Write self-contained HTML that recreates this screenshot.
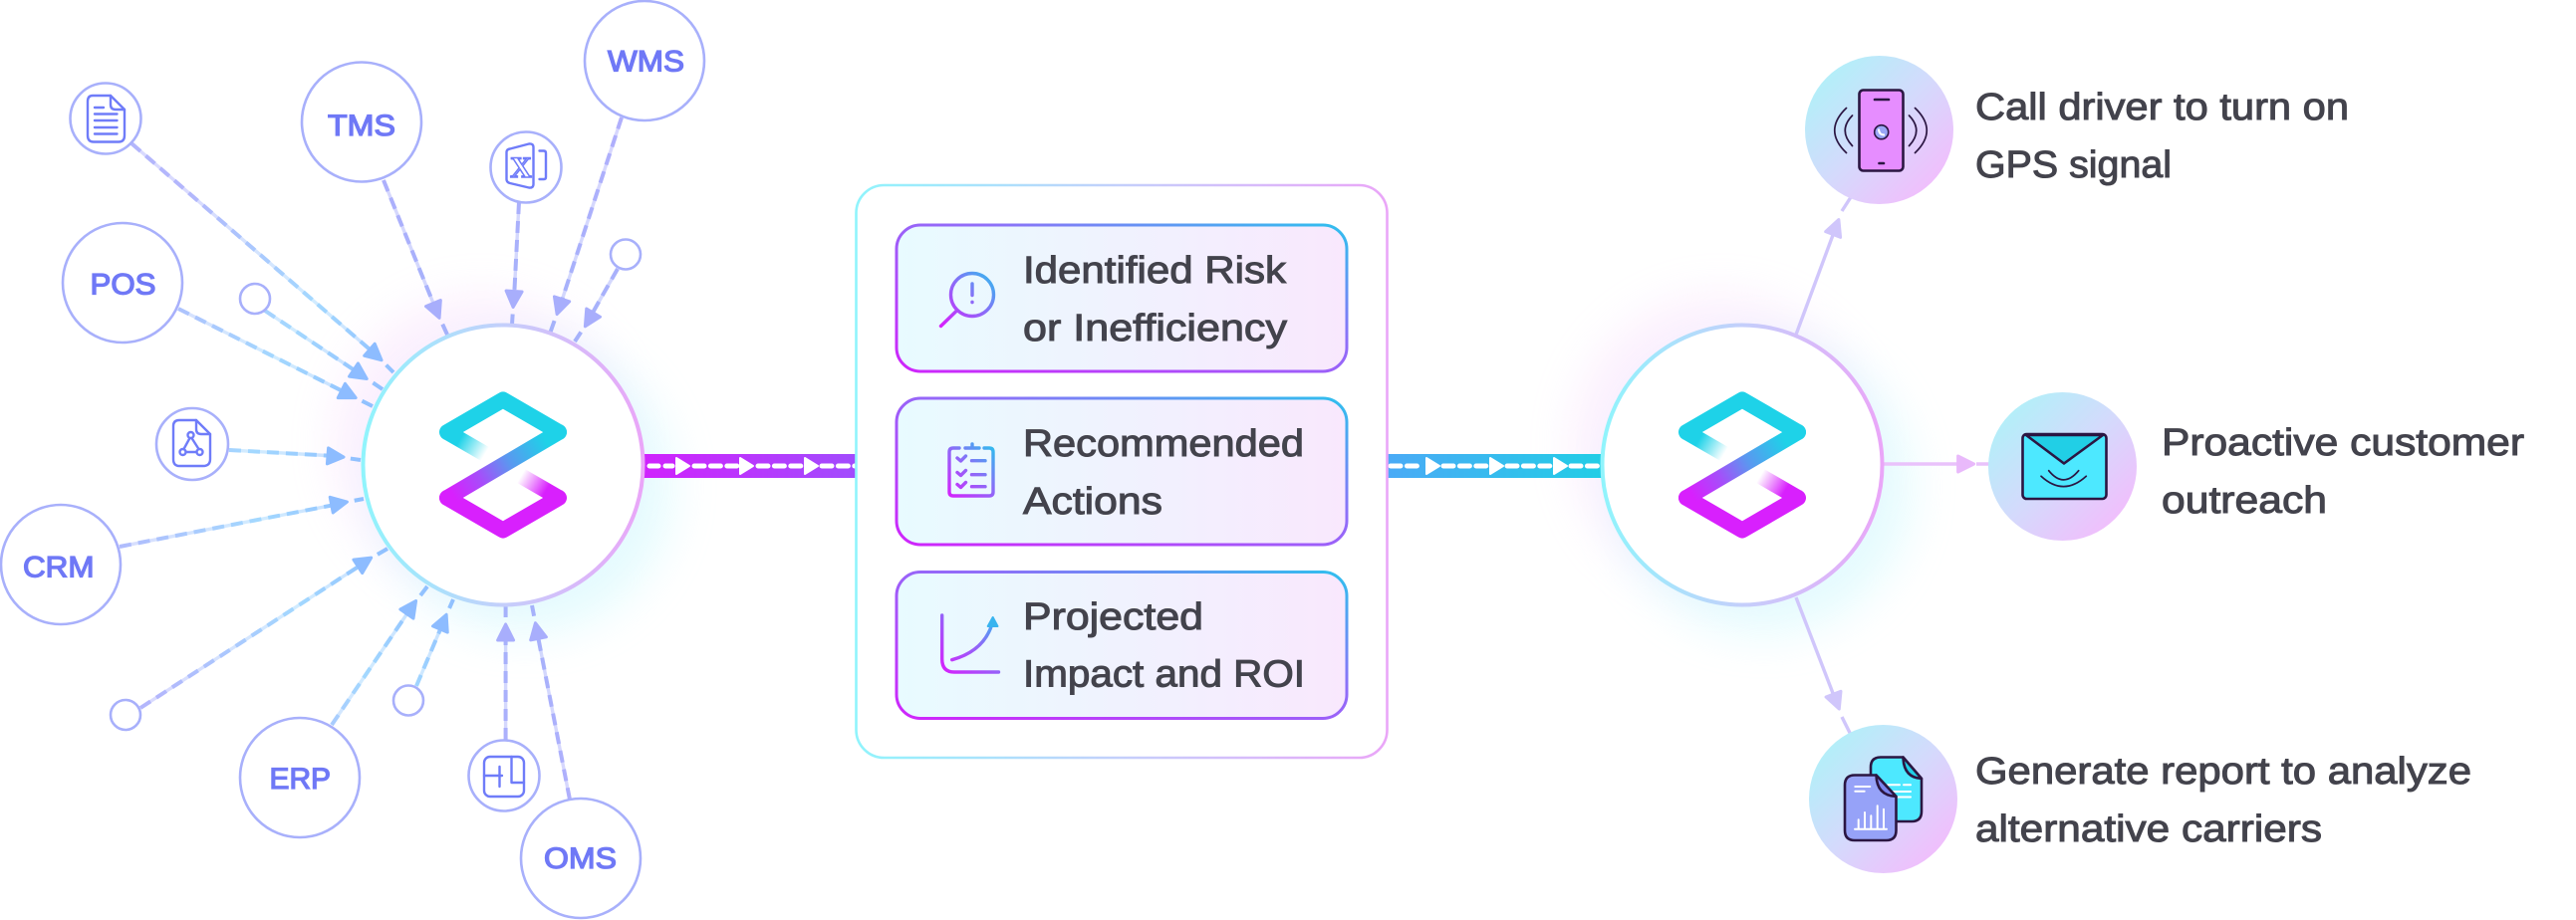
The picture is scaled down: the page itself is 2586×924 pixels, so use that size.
<!DOCTYPE html>
<html><head><meta charset="utf-8"><style>
html,body{margin:0;padding:0;background:#fff;width:2586px;height:924px;overflow:hidden}
svg{display:block}
text{font-family:"Liberation Sans",sans-serif}
.t{fill:#43434c;stroke:#43434c;stroke-width:1;font-size:38px}
.s{fill:#6f78f6;stroke:#6f78f6;stroke-width:1.3;font-size:30px}
.sat{fill:#fff;stroke:#a8b0fb;stroke-width:2.6}
.ic{fill:none;stroke:#6f7cf9;stroke-width:2.4;stroke-linecap:round;stroke-linejoin:round}
.L{stroke:url(#lg);fill:none}.R{stroke:url(#rg);fill:none}
.d{stroke-width:4;stroke-dasharray:12 7}
.u{stroke-width:3.4;opacity:.5}
.e{stroke-width:4;stroke-dasharray:0 15 60}
.dk{stroke:#2b1642;stroke-width:2.6;stroke-linejoin:round;stroke-linecap:round}
.w{stroke:#fff;stroke-width:2;stroke-linecap:round;fill:none}
.gi{fill:none;stroke-width:3.4;stroke-linecap:round;stroke-linejoin:round}
</style></head><body>
<svg xmlns="http://www.w3.org/2000/svg" width="2586" height="924" viewBox="0 0 2586 924">
<defs>
<radialGradient id="lg" gradientUnits="userSpaceOnUse" cx="505" cy="467" r="420"><stop offset=".3" stop-color="#8dbcff"/><stop offset=".6" stop-color="#a3d8ff"/><stop offset="1" stop-color="#b3b6fc"/></radialGradient>
<radialGradient id="rg" gradientUnits="userSpaceOnUse" cx="505" cy="467" r="420"><stop offset=".3" stop-color="#a4b2fb"/><stop offset="1" stop-color="#b3aefc"/></radialGradient>
<linearGradient id="ring" x1="0" y1="0" x2="1" y2="0"><stop offset="0" stop-color="#90f4fc"/><stop offset=".5" stop-color="#c4cffb"/><stop offset="1" stop-color="#eaa6f8"/></linearGradient>
<linearGradient id="card" x1="0" y1="1" x2="1" y2="0"><stop offset="0" stop-color="#d024fb"/><stop offset=".6" stop-color="#8f6ff8"/><stop offset="1" stop-color="#2fc0ee"/></linearGradient>
<linearGradient id="cf" x1="0" y1="0" x2="1" y2="0"><stop offset="0" stop-color="#e8fbff"/><stop offset=".5" stop-color="#f0f2fe"/><stop offset="1" stop-color="#f9e8fd"/></linearGradient>
<linearGradient id="ig1" gradientUnits="userSpaceOnUse" x1="944" y1="328" x2="998" y2="274"><stop offset="0" stop-color="#d81ffc"/><stop offset=".55" stop-color="#8b6cf8"/><stop offset="1" stop-color="#2fbdee"/></linearGradient>
<linearGradient id="ig2" gradientUnits="userSpaceOnUse" x1="950" y1="498" x2="998" y2="449"><stop offset="0" stop-color="#d81ffc"/><stop offset=".55" stop-color="#8b6cf8"/><stop offset="1" stop-color="#2fbdee"/></linearGradient>
<linearGradient id="ig3" gradientUnits="userSpaceOnUse" x1="946" y1="676" x2="1002" y2="620"><stop offset="0" stop-color="#d81ffc"/><stop offset=".6" stop-color="#8b6cf8"/><stop offset="1" stop-color="#2fbdee"/></linearGradient>
<linearGradient id="bl" x1="0" y1="0" x2="1" y2="0"><stop offset="0" stop-color="#d022fd"/><stop offset="1" stop-color="#a14cfd"/></linearGradient>
<linearGradient id="br" x1="0" y1="0" x2="1" y2="0"><stop offset="0" stop-color="#4aaaf6"/><stop offset="1" stop-color="#22cde6"/></linearGradient>
<linearGradient id="ci" x1="0" y1="0" x2="1" y2="1"><stop offset=".08" stop-color="#aef2f8"/><stop offset=".5" stop-color="#d4dafc"/><stop offset=".95" stop-color="#f7b8fc"/></linearGradient>
<linearGradient id="f1" gradientUnits="userSpaceOnUse" x1="462" y1="441" x2="487" y2="456"><stop offset="0" stop-color="#1ed2e8"/><stop offset="1" stop-color="#1ed2e8" stop-opacity="0"/></linearGradient>
<linearGradient id="f2" gradientUnits="userSpaceOnUse" x1="548" y1="493" x2="523" y2="478"><stop offset="0" stop-color="#d820fd"/><stop offset="1" stop-color="#d820fd" stop-opacity="0"/></linearGradient>
<linearGradient id="f3" gradientUnits="userSpaceOnUse" x1="561" y1="434" x2="449" y2="500"><stop offset=".12" stop-color="#1ed2e8"/><stop offset=".45" stop-color="#5b97f0"/><stop offset=".7" stop-color="#a64efa"/><stop offset=".95" stop-color="#d820fd"/></linearGradient>
<filter id="b" x="-50%" y="-50%" width="200%" height="200%"><feGaussianBlur stdDeviation="22"/></filter>
<polygon id="a" points="-8,-8 8,0 -8,8" stroke-width="3" stroke-linejoin="round"/>
<g id="logo" fill="none" stroke-width="16">
<path d="M487,456 L449,434" stroke="url(#f1)"/>
<path d="M449,434 L505,401.5 L561,434" stroke="#1ed2e8" stroke-linejoin="round" stroke-linecap="round"/>
<path d="M523,478 L561,500" stroke="url(#f2)"/>
<path d="M449,500 L505,532.5 L561,500" stroke="#d820fd" stroke-linejoin="round" stroke-linecap="round"/>
<path d="M561,434 L449,500" stroke="url(#f3)" stroke-linecap="round"/>
</g>
<g id="hub">
<circle cx="483" cy="445" r="148" fill="#f3c4fb" opacity=".26" filter="url(#b)"/>
<circle cx="527" cy="489" r="148" fill="#b4f5fd" opacity=".34" filter="url(#b)"/>
</g>
</defs>
<rect width="2586" height="924" fill="#fff"/>
<use href="#hub"/><use href="#hub" x="1244"/>

<!-- connectors -->
<g fill="#8dbcff" stroke="#8dbcff">
<g class="L"><path class="u" d="M132,144L377,356"/><path class="d" d="M132,144L377,356"/><path class="e" d="M377,356L395,374"/></g><use href="#a" transform="translate(377,356.5) rotate(41)"/>
<g class="L"><path class="u" d="M266,312L362,376"/><path class="d" d="M266,312L362,376"/><path class="e" d="M362,376L384,391"/></g><use href="#a" transform="translate(361.6,376) rotate(34)"/>
<g class="L"><path class="u" d="M179,310L350,396"/><path class="d" d="M179,310L350,396"/><path class="e" d="M350,396L374,408"/></g><use href="#a" transform="translate(350,396) rotate(26.5)"/>
<g class="L"><path class="u" d="M230,452L337,458"/><path class="d" d="M230,452L337,458"/><path class="e" d="M337,458.5L362,462"/></g><use href="#a" transform="translate(337,458.5) rotate(4.3)"/>
<g class="L"><path class="u" d="M120,549L341,506"/><path class="d" d="M120,549L341,506"/><path class="e" d="M341,505.6L365,501"/></g><use href="#a" transform="translate(340.6,505.6) rotate(-11)"/>
<g class="L"><path class="u" d="M141,711L366,565"/><path class="d" d="M141,711L366,565"/><path class="e" d="M366,564.5L389,551"/></g><use href="#a" transform="translate(366,564.5) rotate(-33)"/>
<g class="L"><path class="u" d="M333,728L413,610"/><path class="d" d="M333,728L413,610"/><path class="e" d="M413,610L429,589"/></g><use href="#a" transform="translate(413,610) rotate(-55)"/>
<g class="L"><path class="u" d="M418,689L445,625"/><path class="d" d="M418,689L445,625"/><path class="e" d="M445,624.6L455,602"/></g><use href="#a" transform="translate(445,624.6) rotate(-67)"/>
</g>
<g fill="#a8aefc" stroke="#a8aefc">
<g class="R"><path class="u" d="M507.6,743L507.6,635"/><path class="d" d="M507.6,743L507.6,635"/><path class="e" d="M507.6,635L507.6,608"/></g><use href="#a" transform="translate(507.6,635) rotate(-90)"/>
<g class="R"><path class="u" d="M572,803L539,634"/><path class="d" d="M572,803L539,634"/><path class="e" d="M539,633.5L534,608"/></g><use href="#a" transform="translate(539,633.5) rotate(-101)"/>
<g class="R"><path class="u" d="M620,270L591,321"/><path class="d" d="M620,270L591,321"/><path class="e" d="M591.5,321L577,343"/></g><use href="#a" transform="translate(591.5,321) rotate(121)"/>
<g class="R"><path class="u" d="M624,118L562,308"/><path class="d" d="M624,118L562,308"/><path class="e" d="M561.6,308L552,335"/></g><use href="#a" transform="translate(561.6,308) rotate(108)"/>
<g class="R"><path class="u" d="M521,203L516,300"/><path class="d" d="M521,203L516,300"/><path class="e" d="M515.6,300.5L514,326"/></g><use href="#a" transform="translate(515.6,300.5) rotate(93.5)"/>
<g class="R"><path class="u" d="M385,181L438,312"/><path class="d" d="M385,181L438,312"/><path class="e" d="M438,312L449,336"/></g><use href="#a" transform="translate(438,312) rotate(67.5)"/>
</g>

<!-- right connectors -->
<g fill="none" stroke="#d0c6fb" stroke-width="3.4">
<path d="M1803,336L1843,228"/><path d="M1849,212L1858,198"/>
<path d="M1803,600L1843,704"/><path d="M1849,720L1858,738"/>
</g>
<path d="M1890,466H1974M1984,466H1998" stroke="#e9c2fb" stroke-width="3.4" fill="none"/>
<use href="#a" fill="#d0c6fb" stroke="#d0c6fb" transform="translate(1843,228) rotate(-69)"/>
<use href="#a" fill="#d0c6fb" stroke="#d0c6fb" transform="translate(1843.4,704.6) rotate(69)"/>
<use href="#a" fill="#e9b9fb" stroke="#e9b9fb" transform="translate(1973.6,466)"/>

<!-- bars -->
<rect x="645" y="456" width="215" height="24" fill="url(#bl)"/>
<rect x="1392" y="456" width="216" height="24" fill="url(#br)"/>
<g fill="none" stroke="#fff" stroke-width="5" stroke-linecap="round">
<path d="M652,468H675" stroke-dasharray="9 7"/>
<path d="M697,468H740" stroke-dasharray="10 6.4"/>
<path d="M761,468H804" stroke-dasharray="10 6.4"/>
<path d="M825,468H858" stroke-dasharray="10 6.4"/>
<path d="M1396,468H1428" stroke-dasharray="10 6.4"/>
<path d="M1449,468H1492" stroke-dasharray="10 6.4"/>
<path d="M1513,468H1556" stroke-dasharray="10 6.4"/>
<path d="M1577,468H1606" stroke-dasharray="10 6.4"/>
</g>
<g fill="#fff" stroke="#fff" stroke-width="2" stroke-linejoin="round">
<polygon points="679,460 692,468 679,476"/><polygon points="743,460 756,468 743,476"/><polygon points="808,460 821,468 808,476"/>
<polygon points="1432,460 1445,468 1432,476"/><polygon points="1496,460 1509,468 1496,476"/><polygon points="1560,460 1573,468 1560,476"/>
</g>

<!-- hubs -->
<circle cx="505" cy="467" r="140.5" fill="#fff" stroke="url(#ring)" stroke-width="4"/>
<circle cx="1749" cy="467" r="140.5" fill="#fff" stroke="url(#ring)" stroke-width="4"/>
<use href="#logo"/><use href="#logo" x="1244"/>

<!-- satellites -->
<circle class="sat" cx="106" cy="119" r="35.5"/>
<circle class="sat" cx="363" cy="122.5" r="60"/>
<circle class="sat" cx="647" cy="61" r="60"/>
<circle class="sat" cx="528" cy="168" r="35.5"/>
<circle class="sat" cx="628" cy="255.5" r="15"/>
<circle class="sat" cx="123" cy="284" r="60"/>
<circle class="sat" cx="256" cy="300" r="15"/>
<circle class="sat" cx="193" cy="446" r="36"/>
<circle class="sat" cx="61" cy="567" r="60"/>
<circle class="sat" cx="126" cy="718" r="15"/>
<circle class="sat" cx="301" cy="781" r="60"/>
<circle class="sat" cx="410" cy="703.5" r="15"/>
<circle class="sat" cx="506" cy="779" r="35.5"/>
<circle class="sat" cx="583" cy="862" r="60"/>
<text class="s" x="329" y="136" textLength="68" lengthAdjust="spacingAndGlyphs">TMS</text>
<text class="s" x="610" y="71.5" textLength="77" lengthAdjust="spacingAndGlyphs">WMS</text>
<text class="s" x="90.5" y="295.5" textLength="66" lengthAdjust="spacingAndGlyphs">POS</text>
<text class="s" x="23" y="579.5" textLength="71.5" lengthAdjust="spacingAndGlyphs">CRM</text>
<text class="s" x="270.5" y="792" textLength="61.5" lengthAdjust="spacingAndGlyphs">ERP</text>
<text class="s" x="546" y="872" textLength="73" lengthAdjust="spacingAndGlyphs">OMS</text>

<!-- small icons -->
<g class="ic">
<path d="M93,96H111L125,110V136Q125,142.5 119,142.5H94Q88,142.5 88,136V102Q88,96 93,96Z"/>
<path d="M111,96V105Q111,110 116,110H125"/>
<path d="M95,108H104M95,114.5H117.5M95,121H117.5M95,128H117.5M95,134.5H117.5"/>
<path d="M508.5,153Q508.5,150 512,149.5L531,144.5Q535.5,144 535.5,148V185Q535.5,189 531,188.5L512,184Q508.5,183 508.5,180Z"/>
<path d="M541.5,151.5H546Q548,151.5 548,154V178Q548,180 546,180H541.5"/>
<path d="M180,422H197L211,436V461Q211,468 204,468H180Q174,468 174,461V428Q174,422 180,422Z"/>
<path d="M197,422V431Q197,436 202,436H211"/>
<circle cx="191.5" cy="437" r="3"/><circle cx="183.5" cy="454" r="3"/><circle cx="200.5" cy="454" r="3"/>
<path d="M190.5,440L184.5,451M192.5,440L199.5,451M186.5,454H197.5"/>
<rect x="486" y="760" width="40" height="40" rx="6"/>
<path d="M486,779H504M501.5,770V790M513.5,760V786H526"/>
</g>
<text x="523" y="178" text-anchor="middle" font-size="30" style="font-family:'Liberation Serif',serif;font-weight:700" fill="#fff" stroke="#6f7cf9" stroke-width="1.5">X</text>

<!-- panel -->
<rect x="859.5" y="186" width="533" height="575" rx="28" fill="#fff" stroke="url(#ring)" stroke-width="2.6"/>
<g fill="url(#cf)" stroke="url(#card)" stroke-width="3">
<rect x="900" y="226" width="452" height="147" rx="24"/>
<rect x="900" y="400" width="452" height="147" rx="24"/>
<rect x="900" y="574.5" width="452" height="147" rx="24"/>
</g>
<circle cx="976" cy="296" r="21.5" class="gi" stroke="url(#ig1)"/>
<path class="gi" stroke="url(#ig1)" d="M961,311.5L944.5,327.5M976,285V296.5M976,303.3V303.6"/>
<path class="gi" stroke="url(#ig2)" d="M963,450H957Q953,450 953,454V494Q953,498 957,498H993Q997,498 997,494V454Q997,450 993,450H988M969,450H983M976,446V450"/>
<path class="gi" stroke="url(#ig2)" d="M961,460L964.5,463L969.5,458M961,474.5L964.5,477.5L969.5,472.5M961,486.5L964.5,489.5L969.5,484.5M975.5,462.7H989M975.5,476.7H989M975.5,488.7H989"/>
<path class="gi" stroke="url(#ig3)" d="M945.7,618V662Q945.7,675 958,675H1002.5M955.7,662.7Q987,654 995.5,628"/>
<polygon points="996.7,620 1001.5,629 991.7,629" fill="#39b4ef" stroke="#39b4ef" stroke-width="2" stroke-linejoin="round"/>

<text class="t" x="1027" y="284" textLength="264" lengthAdjust="spacingAndGlyphs">Identified Risk</text>
<text class="t" x="1027" y="342" textLength="265" lengthAdjust="spacingAndGlyphs">or Inefficiency</text>
<text class="t" x="1027" y="458" textLength="282" lengthAdjust="spacingAndGlyphs">Recommended</text>
<text class="t" x="1027" y="516" textLength="140" lengthAdjust="spacingAndGlyphs">Actions</text>
<text class="t" x="1027" y="632" textLength="181" lengthAdjust="spacingAndGlyphs">Projected</text>
<text class="t" x="1027" y="689.5" textLength="283" lengthAdjust="spacingAndGlyphs">Impact and ROI</text>

<!-- outcome circles -->
<circle cx="1886.5" cy="130.5" r="74.5" fill="url(#ci)"/>
<circle cx="2070.5" cy="468.5" r="74.5" fill="url(#ci)"/>
<circle cx="1890.5" cy="802.5" r="74.5" fill="url(#ci)"/>

<!-- phone -->
<rect x="1866.5" y="90.5" width="44" height="81" rx="4" fill="#e68dff" class="dk"/>
<path class="dk" fill="none" d="M1882,100H1896M1886.5,164H1891"/>
<circle cx="1888.7" cy="132.7" r="7" fill="#9aa6f6" stroke="#2b1642" stroke-width="1.6"/>
<path d="M1886,129.5Q1886,135.5 1892,135.5" fill="none" stroke="#fff" stroke-width="2"/>
<g fill="none" stroke="#2b1642" stroke-width="1.7" stroke-linecap="round">
<path d="M1853.5,108.5Q1830,131 1853.5,153.5M1859.5,116Q1845,131 1859.5,146.5M1916.5,116Q1931,131 1916.5,146.5M1922.5,108.5Q1946,131 1922.5,153.5"/>
</g>

<!-- envelope -->
<rect x="2030.5" y="436" width="84" height="65" rx="4" fill="#4de8ff" class="dk"/>
<path d="M2034,437L2072,465.5L2111,437Z" fill="#21cfe6" class="dk"/>
<path d="M2056.7,472.7Q2071.5,491 2086.7,472.7M2049,478.3Q2071.5,499 2094.3,478.3" fill="none" stroke="#2b1642" stroke-width="1.7" stroke-linecap="round"/>

<!-- docs -->
<path d="M1888,760.5H1910.5L1929,782V815Q1929,825 1919,825H1888Q1878,825 1878,815V770.5Q1878,760.5 1888,760.5Z" fill="#4de8ff" class="dk"/>
<path d="M1910.5,760.5Q1911,781 1929,782Z" fill="#21cfe6" class="dk"/>
<path class="w" d="M1895,788.3H1907M1911,788.3H1918M1895,795H1918M1903,800.5H1918"/>
<path d="M1862,778.5H1883.5L1903.5,800V834Q1903.5,844 1893.5,844H1862Q1852,844 1852,834V788.5Q1852,778.5 1862,778.5Z" fill="#96a2f8" class="dk"/>
<path d="M1883.5,778.5Q1884,799 1903.5,800Z" fill="#7b84ef" class="dk"/>
<path class="w" stroke-width="1.6" d="M1862.3,790H1877.3M1862.3,794.7H1871.7M1862,832.7H1894M1865.7,832V823.3M1872,832V816M1878.3,832V819.3M1884.7,832V809.3M1891,832V812.7"/>

<text class="t" x="1983" y="120" textLength="375" lengthAdjust="spacingAndGlyphs">Call driver to turn on</text>
<text class="t" x="1983" y="178" textLength="197" lengthAdjust="spacingAndGlyphs">GPS signal</text>
<text class="t" x="2170" y="457" textLength="364" lengthAdjust="spacingAndGlyphs">Proactive customer</text>
<text class="t" x="2170" y="515" textLength="166" lengthAdjust="spacingAndGlyphs">outreach</text>
<text class="t" x="1983" y="787" textLength="498" lengthAdjust="spacingAndGlyphs">Generate report to analyze</text>
<text class="t" x="1983" y="845" textLength="348" lengthAdjust="spacingAndGlyphs">alternative carriers</text>
</svg>
</body></html>
